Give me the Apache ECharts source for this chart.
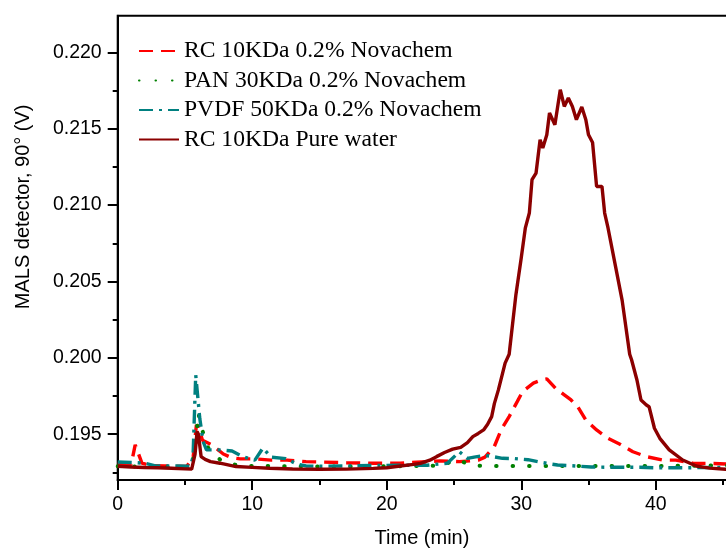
<!DOCTYPE html>
<html>
<head>
<meta charset="utf-8">
<script src="https://cdn.jsdelivr.net/npm/echarts@6/dist/echarts.min.js"></script>
<style>html,body{margin:0;padding:0;background:#fff;}#c{width:726px;height:550px;}</style>
</head>
<body>
<div id="c"></div>
<script>
// ---- Data (time in min, MALS 90° signal in V) ----
const seriesNames = ['RC 10KDa 0.2% Novachem', 'PAN 30KDa 0.2% Novachem', 'PVDF 50KDa 0.2% Novachem', 'RC 10KDa Pure water'];

const timeRC = [0, 0.6, 1.0, 1.3, 1.8, 2.5, 3.5, 4.5, 5.1, 5.6, 5.85, 6.0, 6.3, 7.0, 7.85, 8.5, 9.1, 10.2, 11.4, 12.6, 14, 15, 17, 19, 21, 23, 24, 25.4, 26.2, 26.8, 27.3, 28.0, 28.5, 29.1, 29.7, 30.1, 30.9, 31.6, 31.9, 32.6, 33.2, 33.7, 34.2, 34.8, 35.6, 36.4, 37.3, 38.3, 39.3, 40.5, 41.5, 42.8, 43.9, 45.2, 47, 50];
const valRC = [0.19309, 0.19305, 0.19300, 0.19430, 0.19310, 0.19295, 0.19292, 0.19290, 0.19288, 0.19340, 0.19560, 0.19550, 0.19460, 0.19430, 0.19370, 0.19345, 0.19338, 0.19338, 0.19330, 0.19330, 0.19320, 0.19318, 0.19313, 0.19310, 0.19310, 0.19320, 0.19325, 0.19320, 0.19325, 0.19330, 0.19350, 0.19420, 0.19528, 0.19615, 0.19713, 0.19779, 0.19834, 0.19858, 0.19862, 0.19796, 0.19757, 0.19724, 0.19680, 0.19593, 0.19528, 0.19475, 0.19436, 0.19385, 0.19353, 0.19331, 0.19330, 0.19309, 0.19309, 0.19305, 0.19300, 0.19295];

const timePAN = [0, 2, 4, 5.5, 5.8, 6.0, 6.2, 6.7, 7.2, 7.8, 8.5, 9.5, 11, 13, 15, 17, 19, 21, 23, 24.3, 24.9, 25.5, 26.3, 27.5, 30, 35, 40, 45, 50];
const valPAN = [0.19290, 0.19288, 0.19285, 0.19283, 0.19450, 0.19640, 0.19550, 0.19414, 0.19364, 0.19320, 0.19303, 0.19292, 0.19292, 0.19290, 0.19289, 0.19288, 0.19290, 0.19290, 0.19292, 0.19295, 0.19330, 0.19325, 0.19295, 0.19292, 0.19292, 0.19292, 0.19292, 0.19295, 0.19295];

const timePVDF = [0, 1, 2, 2.8, 4, 5.4, 5.6, 5.8, 6.0, 6.1, 6.35, 6.6, 7.7, 8.5, 9.3, 10.2, 10.8, 11.4, 12.5, 13.3, 14, 15, 17, 19, 21, 23, 24.5, 25.4, 26.0, 26.5, 27.3, 28.6, 29.5, 30.5, 31.5, 32.7, 34, 35.2, 37.0, 38.8, 40, 42, 45, 50];
const valPVDF = [0.19318, 0.19315, 0.19310, 0.19292, 0.19292, 0.19290, 0.19350, 0.19888, 0.19700, 0.19604, 0.19451, 0.19397, 0.19397, 0.19390, 0.19353, 0.19330, 0.19410, 0.19350, 0.19340, 0.19305, 0.19292, 0.19290, 0.19292, 0.19295, 0.19297, 0.19297, 0.19310, 0.19385, 0.19342, 0.19350, 0.19362, 0.19342, 0.19340, 0.19333, 0.19315, 0.19298, 0.19292, 0.19285, 0.19283, 0.19283, 0.19280, 0.19280, 0.19282, 0.19282];

const timePure = [0, 1, 2, 3, 4, 5, 5.5, 5.75, 5.9, 6.0, 6.2, 6.5, 6.9, 7.6, 8.8, 10, 11.3, 13, 15, 17, 19, 20, 21, 22, 22.5, 23.2, 23.7, 24.3, 24.9, 25.5, 26.0, 26.4, 26.8, 27.2, 27.5, 27.8, 28.0, 28.3, 28.6, 28.8, 29.1, 29.6, 30.0, 30.3, 30.6, 30.8, 31.1, 31.4, 31.6, 31.9, 32.1, 32.5, 32.9, 33.2, 33.5, 33.8, 34.1, 34.5, 34.8, 35.0, 35.3, 35.6, 36.0, 36.2, 36.45, 37.0, 37.5, 38.06, 38.2, 38.6, 38.9, 39.3, 39.5, 39.9, 40.3, 41.0, 42.0, 43.0, 44.0, 45.2, 47, 50];
const valPure = [0.19290, 0.19285, 0.19282, 0.19280, 0.19277, 0.19273, 0.19272, 0.19370, 0.19517, 0.19500, 0.19353, 0.19335, 0.19320, 0.19310, 0.19288, 0.19283, 0.19277, 0.19272, 0.19270, 0.19271, 0.19276, 0.19280, 0.19292, 0.19302, 0.19309, 0.19330, 0.19353, 0.19380, 0.19402, 0.19414, 0.19445, 0.19484, 0.19505, 0.19528, 0.19565, 0.19615, 0.19700, 0.19790, 0.19895, 0.19965, 0.20023, 0.20412, 0.20655, 0.20849, 0.20948, 0.21166, 0.21210, 0.21428, 0.21374, 0.21460, 0.21603, 0.21526, 0.21755, 0.21646, 0.21701, 0.21646, 0.21559, 0.21642, 0.21559, 0.21460, 0.21410, 0.21122, 0.21122, 0.20948, 0.20850, 0.20602, 0.20376, 0.20023, 0.19987, 0.19855, 0.19724, 0.19691, 0.19680, 0.19539, 0.19473, 0.19397, 0.19331, 0.19292, 0.19278, 0.19270, 0.19268, 0.19266];

// ---- Tick labels ----
const xTickInterval = 10;
const yMajorTicks = [0.195, 0.200, 0.205, 0.210, 0.215, 0.220];
const yMinorTicks = [0.1925, 0.1975, 0.2025, 0.2075, 0.2125, 0.2175];

const zip = (t, v) => t.map((x, i) => [x, v[i]]);

const chart = echarts.init(document.getElementById('c'), null, {renderer: 'canvas'});
const sansFont = 'Liberation Sans, Arial, sans-serif';
const serifFont = 'Liberation Serif, Times New Roman, serif';
const axisLineStyle = {color: '#000', width: 2};

const option = {
  backgroundColor: '#fff',
  animation: false,
  grid: {left: 117.7, top: 15.7, width: 672.6, height: 464.3, outerBoundsMode: 'none', containLabel: false,
    show: true, borderColor: '#000', borderWidth: 2, backgroundColor: 'transparent'},
  legend: {
    orient: 'vertical', left: 138, top: 39, padding: 0,
    itemWidth: 40, itemHeight: 14, itemGap: 5.5,
    itemStyle: {opacity: 0},
    textStyle: {fontFamily: serifFont, fontSize: 23.6, color: '#000', lineHeight: 23},
    data: seriesNames
  },
  xAxis: {
    type: 'value', min: 0, max: 50, interval: xTickInterval,
    name: 'Time (min)', nameLocation: 'middle', nameGap: 48,
    nameTextStyle: {fontFamily: sansFont, fontSize: 20, color: '#000', padding: [0, 64, 0, 0]},
    axisLine: {show: true, onZero: false, lineStyle: axisLineStyle},
    axisTick: {show: true, length: 10, lineStyle: axisLineStyle},
    minorTick: {show: true, splitNumber: 2, length: 5, lineStyle: axisLineStyle},
    axisLabel: {fontFamily: sansFont, fontSize: 19.5, color: '#000', margin: 15},
    splitLine: {show: false}, minorSplitLine: {show: false}
  },
  yAxis: [{
    type: 'value', min: 0.192, max: 0.2224,
    name: 'MALS detector, 90° (V)', nameLocation: 'middle', nameGap: 84,
    nameTextStyle: {fontFamily: sansFont, fontSize: 20, color: '#000', padding: [0, 0, 0, 82]},
    axisLine: {show: true, onZero: false, lineStyle: axisLineStyle},
    axisTick: {show: true, length: 10, lineStyle: axisLineStyle, customValues: yMajorTicks},
    axisLabel: {fontFamily: sansFont, fontSize: 19.5, color: '#000', margin: 16, customValues: yMajorTicks,
      formatter: v => v.toFixed(3)},
    splitLine: {show: false}
  }, {
    type: 'value', min: 0.192, max: 0.2224, position: 'left',
    axisLine: {show: false},
    axisTick: {show: true, length: 5, lineStyle: axisLineStyle, customValues: yMinorTicks},
    axisLabel: {show: false},
    splitLine: {show: false}
  }],
  series: [
    {name: seriesNames[0], type: 'line', data: zip(timeRC, valRC), showSymbol: false, symbol: 'none', z: 2,
      lineStyle: {color: '#ff0000', width: 3.4, type: [14, 8]}, itemStyle: {color: '#ff0000'}},
    {name: seriesNames[1], type: 'line', data: zip(timePAN, valPAN), showSymbol: false, symbol: 'none', z: 3,
      lineStyle: {color: '#008000', width: 4, type: [0.5, 16], cap: 'round'}, itemStyle: {color: '#008000'}},
    {name: seriesNames[2], type: 'line', data: zip(timePVDF, valPVDF), showSymbol: false, symbol: 'none', z: 4,
      lineStyle: {color: '#008080', width: 3.4, type: [14, 6, 3, 6]}, itemStyle: {color: '#008080'}},
    {name: seriesNames[3], type: 'line', data: zip(timePure, valPure), showSymbol: false, symbol: 'none', z: 5,
      lineStyle: {color: '#8b0000', width: 3.4}, itemStyle: {color: '#8b0000'}}
  ]
};
chart.setOption(option);
</script>
</body>
</html>
